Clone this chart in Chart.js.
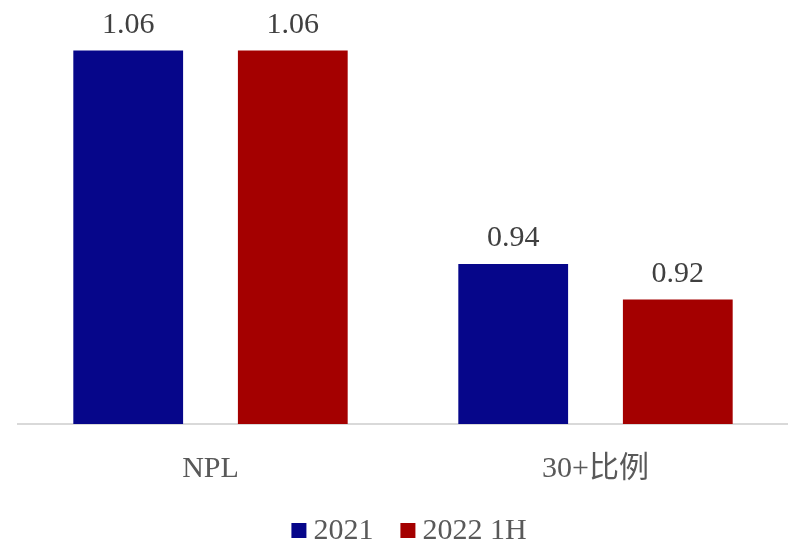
<!DOCTYPE html>
<html>
<head>
<meta charset="utf-8">
<script src="https://cdn.jsdelivr.net/npm/chart.js@4.4.1/dist/chart.umd.min.js"></script>
<style>
  html, body { margin: 0; padding: 0; background: #ffffff; }
  #wrap { width: 788px; height: 544px; position: relative; }
</style>
</head>
<body>
<div id="wrap"><canvas id="c"></canvas></div>
<script>
// Categories, series and their values
const categories = ['NPL', '30+比例'];
const seriesNames = ['2021', '2022 1H'];
const values2021 = [1.06, 0.94];
const values2022H1 = [1.06, 0.92];
const seriesColors = ['#06068A', '#A40000'];

const FONT_FAMILY = '"Liberation Serif", "Times New Roman", "Noto Sans CJK SC", serif';

// Value labels above each bar
const valueLabels = {
  id: 'valueLabels',
  afterDatasetsDraw(chart) {
    const ctx = chart.ctx;
    ctx.save();
    ctx.font = '30px ' + FONT_FAMILY;
    ctx.fillStyle = '#404040';
    ctx.textAlign = 'center';
    ctx.textBaseline = 'alphabetic';
    chart.data.datasets.forEach((ds, i) => {
      chart.getDatasetMeta(i).data.forEach((bar, j) => {
        ctx.fillText(ds.data[j].toFixed(2), bar.x, bar.y - 17.5);
      });
    });
    ctx.restore();
  }
};

// Compact legend: small square swatch followed by the series name
const bottomLegend = {
  id: 'bottomLegend',
  afterDraw(chart) {
    const ctx = chart.ctx;
    const box = 15, gapText = 7, gapItem = 27;
    ctx.save();
    ctx.font = '30px ' + FONT_FAMILY;
    const items = chart.data.datasets.map(ds => ({
      label: ds.label, color: ds.backgroundColor, w: ctx.measureText(ds.label).width
    }));
    let total = 0;
    items.forEach((it, k) => { total += box + gapText + it.w + (k ? gapItem : 0); });
    const area = chart.chartArea;
    let x = (area.left + area.right) / 2 + 6 - total / 2;
    const cy = 530.5;
    ctx.textBaseline = 'middle';
    ctx.textAlign = 'left';
    items.forEach(it => {
      ctx.fillStyle = it.color;
      ctx.fillRect(x, cy - box / 2, box, box);
      x += box + gapText;
      ctx.fillStyle = '#595959';
      ctx.fillText(it.label, x, cy + 1);
      x += it.w + gapItem;
    });
    ctx.restore();
  }
};

new Chart(document.getElementById('c'), {
  type: 'bar',
  data: {
    labels: categories,
    datasets: [
      { label: seriesNames[0], data: values2021, backgroundColor: seriesColors[0] },
      { label: seriesNames[1], data: values2022H1, backgroundColor: seriesColors[1] }
    ]
  },
  options: {
    responsive: true,
    maintainAspectRatio: false,
    animation: false,
    devicePixelRatio: 1,
    categoryPercentage: 0.855,
    barPercentage: 0.667,
    layout: { padding: { left: 18, right: -2, top: 15, bottom: 60 } },
    plugins: {
      legend: { display: false },
      tooltip: { enabled: false }
    },
    scales: {
      y: { display: false, min: 0.85, max: 1.08 },
      x: {
        grid: { display: false },
        border: { color: '#d9d9d9', width: 2 },
        ticks: {
          color: '#595959',
          font: { family: FONT_FAMILY, size: 30 },
          padding: 19
        },
        afterFit(scale) { scale.height = 60; }
      }
    }
  },
  plugins: [valueLabels, bottomLegend]
});
</script>
</body>
</html>
